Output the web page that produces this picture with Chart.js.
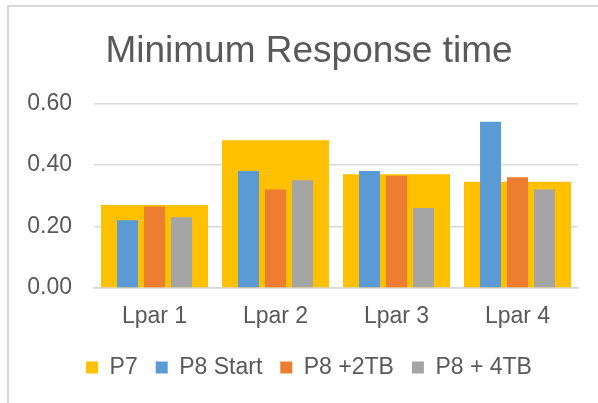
<!DOCTYPE html>
<html>
<head>
<meta charset="utf-8">
<script src="https://cdn.jsdelivr.net/npm/chart.js@4.4.1/dist/chart.umd.min.js"></script>
<style>
  html, body { margin: 0; padding: 0; background: #fff; overflow: hidden; }
  #wrap { position: relative; width: 598px; height: 403px; }
  #frame {
    position: absolute; left: 7px; top: 5px; width: 700px; height: 500px;
    border-left: 2px solid #d9d9d9; border-top: 2px solid #d9d9d9;
  }
  #chart { position: absolute; left: 0; top: 0; }
</style>
</head>
<body>
<div id="wrap">
  <div id="frame"></div>
  <canvas id="chart" width="598" height="403"></canvas>
</div>
<script>
const categories = ['Lpar 1', 'Lpar 2', 'Lpar 3', 'Lpar 4']
const p7 = [0.27, 0.48, 0.37, 0.345]
const p8Start = [0.22, 0.38, 0.38, 0.54]
const p8Plus2 = [0.265, 0.32, 0.365, 0.36]
const p8Plus4 = [0.23, 0.35, 0.26, 0.32]
const yTicks = [0, 0.2, 0.4, 0.6]

const textColor = '#595959'
const gridColor = '#d9d9d9'
const fontFamily = '"Liberation Sans", Arial, sans-serif'

// narrow P8 bars are grouped side by side
const narrow = { categoryPercentage: 0.669, barPercentage: 0.778, order: 0 }

// y labels hang left of the padded area, so widen their clip box
const unclipYLabels = {
  id: 'unclipYLabels',
  afterLayout: (chart) => { chart.scales.y.left = 0 },
}

new Chart(document.getElementById('chart').getContext('2d'), {
  type: 'bar',
  data: {
    labels: categories,
    datasets: [
      // P7 is not grouped: one wide bar behind each group
      { label: 'P7', data: p7, backgroundColor: '#FFC000', grouped: false,
        categoryPercentage: 0.884, barPercentage: 1, order: 1 },
      { label: 'P8 Start', data: p8Start, backgroundColor: '#5B9BD5', ...narrow },
      { label: 'P8 +2TB', data: p8Plus2, backgroundColor: '#ED7D31', ...narrow },
      { label: 'P8 + 4TB', data: p8Plus4, backgroundColor: '#A5A5A5', ...narrow },
    ],
  },
  options: {
    responsive: false,
    animation: false,
    layout: { padding: { top: 10, left: 40, right: 20, bottom: 14 } },
    scales: {
      x: {
        grid: { display: false, drawTicks: false },
        border: { display: true, color: gridColor, width: 1.5 },
        ticks: { color: textColor, font: { family: fontFamily, size: 23 }, padding: 15 },
        afterFit: (scale) => { scale.height = 50 },
      },
      y: {
        min: 0,
        max: 0.6,
        afterBuildTicks: (scale) => { scale.ticks = yTicks.map((v) => ({ value: v })) },
        grid: { color: gridColor, lineWidth: 1.5, drawTicks: false },
        border: { display: false },
        ticks: {
          color: textColor,
          font: { family: fontFamily, size: 23 },
          padding: 22,
          callback: (v) => Number(v).toFixed(2),
        },
        afterFit: (scale) => { scale.width = 54 },
      },
    },
    plugins: {
      title: {
        display: true,
        text: 'Minimum Response time',
        color: textColor,
        font: { family: fontFamily, size: 37, weight: 'normal' },
        padding: { top: 20, bottom: 29 },
      },
      legend: {
        position: 'bottom',
        labels: {
          color: textColor,
          font: { family: fontFamily, size: 23 },
          boxWidth: 12,
          boxHeight: 12,
          padding: 18,
          sort: (a, b) => a.datasetIndex - b.datasetIndex,
        },
      },
      tooltip: { enabled: false },
    },
  },
  plugins: [unclipYLabels],
})
</script>
</body>
</html>
